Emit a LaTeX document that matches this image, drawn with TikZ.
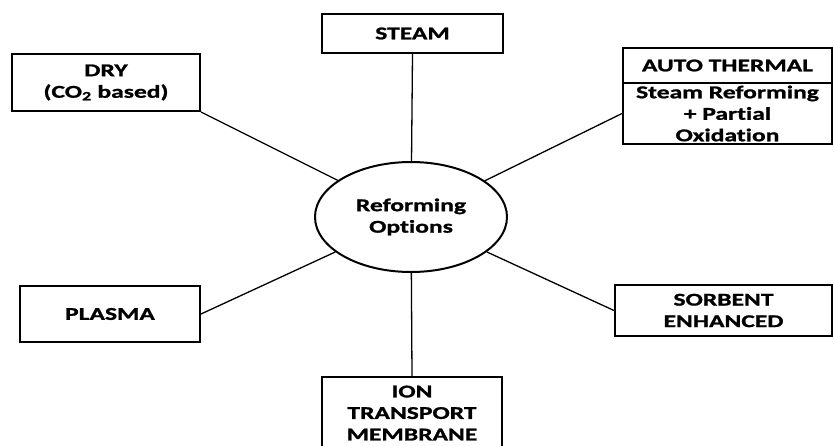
\documentclass[tikz,border=0pt]{standalone}
\usepackage{fontspec}
\setmainfont{Carlito}[FakeStretch=1.42, Ligatures=NoCommon,
  BoldFeatures={FakeBold=1.2}]
\usetikzlibrary{shapes.geometric}

\begin{document}
\begin{tikzpicture}[x=1pt,y=-1pt,
  label text/.style={font=\bfseries\fontsize{18}{21.5}\selectfont, align=center, text=black},
  box/.style={label text, draw, line width=2pt, rectangle, inner sep=0pt},
  hub/.style={label text, draw, line width=2pt, ellipse, inner sep=0pt,
    minimum width=192, minimum height=110},
  link/.style={line width=1.3pt}]
\useasboundingbox (0,0) rectangle (834,445);

% central option hub
\node[hub] (hub) at (411,217) {Reforming\\Options};

% surrounding reforming routes
\node[box, minimum width=188, minimum height=57] (dry) at (106,82.5)
  {DRY\\(CO\textsubscript{2} based)};
\node[box, minimum width=181, minimum height=39] (steam) at (412.5,33.5) {STEAM};
\node[box, minimum width=209, minimum height=35] (autohead) at (727.5,65.5) {AUTO THERMAL};
\node[box, minimum width=209, minimum height=61] (autobody) at (727.5,113.5)
  {Steam Reforming\\+ Partial\\Oxidation};
\node[box, minimum width=180, minimum height=56] (plasma) at (110,314) {PLASMA};
\node[box, minimum width=217, minimum height=51] (sorbent) at (723.5,310.5)
  {SORBENT\\ENHANCED};
\node[box, minimum width=180, minimum height=72] (ion) at (412,413)
  {ION\\TRANSPORT\\MEMBRANE};

% connectors
\draw[link] (hub) -- (dry.south east);
\draw[link] (hub) -- (steam.south);
\draw[link] (hub) -- (autobody.west);
\draw[link] (hub) -- (plasma.east);
\draw[link] (hub) -- (sorbent.west);
\draw[link] (hub) -- (ion.north);
\end{tikzpicture}
\end{document}
